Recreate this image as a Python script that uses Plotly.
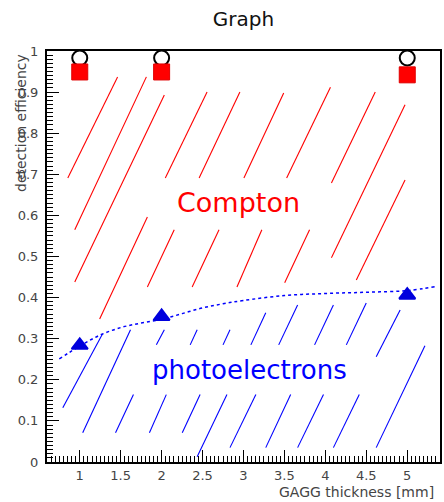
import plotly.graph_objects as go

# ---------------- data ----------------
thickness = [1, 2, 5]                      # GAGG thickness [mm]
eff_total = [0.983, 0.983, 0.983]          # open circles
eff_compton = [0.949, 0.949, 0.942]        # red squares
eff_photo = [0.284, 0.354, 0.406]          # blue triangles

fit_x = [0.75, 1.0, 1.25, 1.5, 1.75, 2.0, 2.25, 2.5, 2.75, 3.0, 3.5, 4.0, 4.5, 5.0, 5.35]
fit_y = [0.251, 0.282, 0.309, 0.327, 0.338, 0.347, 0.361, 0.375, 0.385, 0.393,
         0.405, 0.410, 0.413, 0.417, 0.427]

# hatch segments (data units): start x, start y, end x, end y
red_x0 = [0.854, 0.939, 0.939, 2.045, 2.458, 3.005, 1.243, 1.826, 2.373, 2.920, 3.527, 4.074, 4.074, 4.378, 3.503]
red_y0 = [0.691, 0.565, 0.438, 0.691, 0.691, 0.691, 0.348, 0.426, 0.426, 0.426, 0.691, 0.679, 0.497, 0.443, 0.436]
red_x1 = [1.462, 1.814, 2.033, 2.555, 2.956, 3.491, 1.826, 2.154, 2.701, 3.224, 4.062, 4.609, 4.973, 4.973, 3.807]
red_y1 = [0.937, 0.937, 0.893, 0.900, 0.900, 0.898, 0.596, 0.565, 0.565, 0.565, 0.912, 0.900, 0.869, 0.686, 0.565]

blue_x0 = [0.793, 1.036, 1.437, 1.851, 2.252, 2.434, 2.835, 1.936, 2.349, 2.750, 3.090, 3.430, 3.868, 4.256, 4.621, 4.621, 3.272, 3.661, 4.098]
blue_y0 = [0.132, 0.071, 0.071, 0.071, 0.071, 0.013, 0.035, 0.285, 0.285, 0.285, 0.285, 0.285, 0.285, 0.285, 0.256, 0.035, 0.035, 0.035, 0.035]
blue_x1 = [1.279, 1.620, 1.656, 2.057, 2.470, 2.798, 3.151, 2.033, 2.434, 2.835, 3.272, 3.661, 4.098, 4.499, 4.913, 5.216, 3.576, 3.977, 4.414]
blue_y1 = [0.312, 0.322, 0.164, 0.164, 0.164, 0.164, 0.164, 0.322, 0.322, 0.322, 0.363, 0.382, 0.382, 0.387, 0.370, 0.283, 0.164, 0.164, 0.164]

x_tick_vals = [1, 1.5, 2, 2.5, 3, 3.5, 4, 4.5, 5]
x_tick_text = ["1", "1.5", "2", "2.5", "3", "3.5", "4", "4.5", "5"]
y_tick_vals = [0, 0.1, 0.2, 0.3, 0.4, 0.5, 0.6, 0.7, 0.8, 0.9, 1]
y_tick_text = ["0", "0.1", "0.2", "0.3", "0.4", "0.5", "0.6", "0.7", "0.8", "0.9", "1"]


def segs(x0, y0, x1, y1):
    xs, ys = [], []
    for a, b, c, d in zip(x0, y0, x1, y1):
        xs += [a, c, None]
        ys += [b, d, None]
    return xs, ys


FONT = "DejaVu Sans"
fig = go.Figure()

rx, ry = segs(red_x0, red_y0, red_x1, red_y1)
bx, by = segs(blue_x0, blue_y0, blue_x1, blue_y1)
fig.add_trace(go.Scatter(x=rx, y=ry, mode="lines", line=dict(color="#ff0000", width=1.1),
                         hoverinfo="skip", showlegend=False))
fig.add_trace(go.Scatter(x=bx, y=by, mode="lines", line=dict(color="#0000ff", width=1.1),
                         hoverinfo="skip", showlegend=False))

fig.add_trace(go.Scatter(x=fit_x, y=fit_y, mode="lines", line=dict(color="#0000ff", width=1.5, dash="dot", shape="spline"),
                         showlegend=False))

fig.add_trace(go.Scatter(x=thickness, y=eff_total, mode="markers", cliponaxis=False,
                         marker=dict(symbol="circle", size=15, color="white", line=dict(color="black", width=2)),
                         showlegend=False))
fig.add_trace(go.Scatter(x=thickness, y=eff_compton, mode="markers", cliponaxis=False,
                         marker=dict(symbol="square", size=16, color="#ff0000", line=dict(color="#e00000", width=1)),
                         showlegend=False))
fig.add_trace(go.Scatter(x=thickness, y=eff_photo, mode="markers", cliponaxis=False,
                         marker=dict(symbol="triangle-up", size=14, color="#0000dd", line=dict(color="#0000dd", width=2)),
                         showlegend=False))

fig.add_annotation(x=2.944, y=0.632, xref="x", yref="y", text="Compton", showarrow=False,
                   font=dict(family=FONT, size=27, color="#ff0000"))
fig.add_annotation(x=3.074, y=0.225, xref="x", yref="y", text="photoelectrons", showarrow=False,
                   font=dict(family=FONT, size=26, color="#0000ff"))

# axis titles (ROOT style, aligned to the ends)
fig.add_annotation(x=1, y=0, xref="paper", yref="paper", xanchor="right", yanchor="top",
                   xshift=-4, yshift=-20, text="GAGG thickness [mm]", showarrow=False,
                   font=dict(family=FONT, size=14, color="#444444"))
fig.add_annotation(x=0, y=1, xref="paper", yref="paper", xanchor="center", yanchor="top",
                   xshift=-26, yshift=-1, text="detection efficiency", textangle=-90, showarrow=False,
                   font=dict(family=FONT, size=14, color="#444444"))

axis_common = dict(showline=True, mirror=True, linecolor="black", linewidth=2,
                   ticks="inside", ticklen=12, tickwidth=1.2, tickcolor="black",
                   showgrid=False, zeroline=False,
                   tickfont=dict(family=FONT, size=13, color="#444444"))

fig.update_xaxes(range=[0.6, 5.4], tickmode="array", tickvals=x_tick_vals, ticktext=x_tick_text,
                 minor=dict(dtick=0.05, tick0=0, ticks="inside", ticklen=6, tickcolor="black", tickwidth=1),
                 ticklabelstandoff=0, **axis_common)
fig.update_yaxes(range=[0, 1], tickmode="array", tickvals=y_tick_vals, ticktext=y_tick_text,
                 minor=dict(dtick=0.01, tick0=0, ticks="inside", ticklen=6, tickcolor="black", tickwidth=1),
                 ticklabelstandoff=4, **axis_common)

fig.update_layout(
    width=444, height=502,
    margin=dict(l=47, r=1.5, t=51, b=40),
    paper_bgcolor="white", plot_bgcolor="white",
    title=dict(text="Graph", x=0.5, xref="paper", y=0.963, yref="container", yanchor="middle",
               xanchor="center", font=dict(family=FONT, size=20, color="#111111")),
    showlegend=False,
)

fig.write_html("out.html", config={"displayModeBar": False},
               post_script="document.body.style.margin='0';document.body.style.overflow='hidden';")
